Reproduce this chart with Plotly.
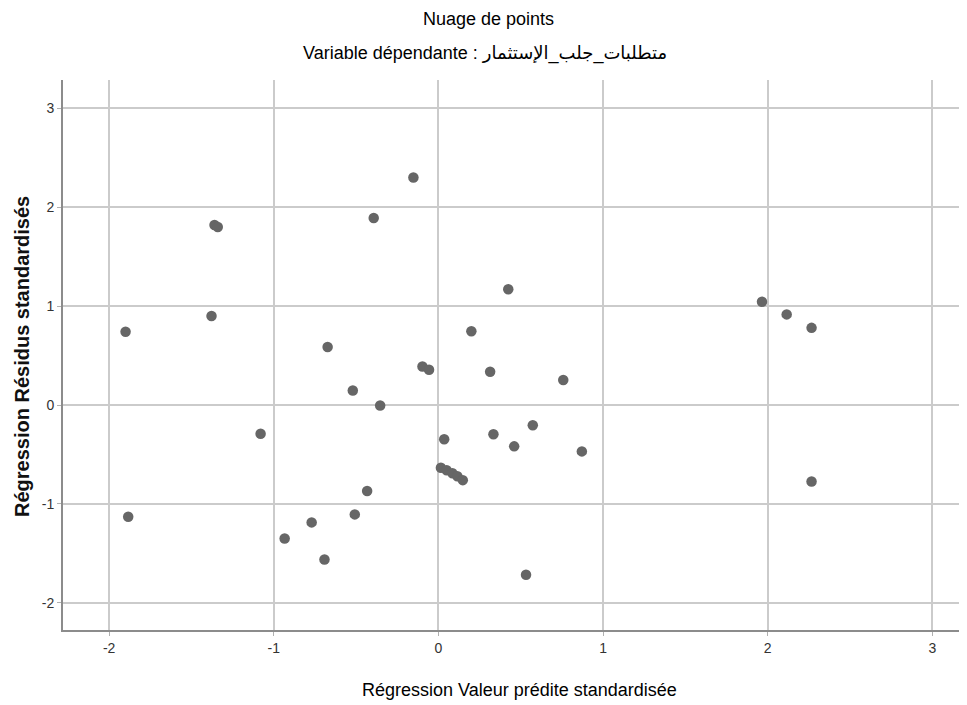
import plotly.graph_objects as go

# Standardized predicted values (x) and standardized residuals (y)
pred_std = [-0.152, -0.393, -1.36, -1.34, -1.378, -1.90, -0.673, -0.097, -0.057,
            -0.52, -0.354, -1.08, 0.035, 0.424, 0.20, 0.314, 0.758, 1.965, 2.115,
            2.266, 2.266, 0.334, 0.573, 0.46, 0.871, 0.015, 0.05, 0.085, 0.115,
            0.148, -1.884, -0.934, -0.77, -0.692, -0.508, -0.433, 0.532]
resid_std = [2.30, 1.89, 1.82, 1.80, 0.90, 0.74, 0.587, 0.39, 0.357,
             0.147, -0.005, -0.29, -0.347, 1.17, 0.746, 0.337, 0.252, 1.044, 0.916,
             0.78, -0.774, -0.296, -0.205, -0.418, -0.469, -0.635, -0.66, -0.69, -0.72,
             -0.76, -1.13, -1.35, -1.187, -1.562, -1.106, -0.87, -1.717]

tick_vals = [-2, -1, 0, 1, 2, 3]
tick_text = ["-2", "-1", "0", "1", "2", "3"]

title_line1 = "Nuage de points"
title_line2 = "Variable dépendante : متطلبات_جلب_الإستثمار"
x_title = "Régression Valeur prédite standardisée"
y_title = "Régression Résidus standardisés"

FONT = "Liberation Sans, Arial, DejaVu Sans, sans-serif"

# page body has an 8px default margin: the figure is drawn offset by (8, 8)
OFF = 8
W, H = 967 - OFF, 705 - OFF
L, R, T, B = 63 - OFF, 0, 80 - OFF, 75
pw, ph = W - L - R, H - T - B

def px_x(px):
    return (px - OFF - L) / pw

def px_y(py):
    return (H - B - (py - OFF)) / ph

fig = go.Figure()
fig.add_trace(go.Scatter(
    x=pred_std, y=resid_std, mode="markers",
    marker=dict(size=10.5, color="#666666", line=dict(width=0)),
    showlegend=False, hoverinfo="x+y",
))

axis_common = dict(
    showgrid=True, gridcolor="#cbcbcb", gridwidth=1.5,
    zeroline=False, showline=True, linecolor="#8c8c8c", linewidth=2,
    ticks="outside", ticklen=4, tickcolor="#b0b0b0",
    tickvals=tick_vals, ticktext=tick_text,
    tickfont=dict(family=FONT, size=14, color="#333333"),
)

fig.update_layout(
    width=W, height=H,
    margin=dict(l=L, r=R, t=T, b=B),
    paper_bgcolor="white", plot_bgcolor="white",
    xaxis=dict(range=[-2.28, 3.21], **axis_common),
    yaxis=dict(range=[-2.275, 3.286], **axis_common),
    annotations=[
        dict(text=title_line1, xref="paper", yref="paper", x=px_x(488), y=px_y(19),
             showarrow=False, xanchor="center", yanchor="middle",
             font=dict(family=FONT, size=18, color="#000000")),
        dict(text=title_line2, xref="paper", yref="paper", x=px_x(485), y=px_y(53),
             showarrow=False, xanchor="center", yanchor="middle",
             font=dict(family=FONT, size=18, color="#000000")),
        dict(text=x_title, xref="paper", yref="paper", x=px_x(519), y=px_y(690),
             showarrow=False, xanchor="center", yanchor="middle",
             font=dict(family=FONT, size=18, color="#000000")),
        dict(text="<b>" + y_title + "</b>", xref="paper", yref="paper", x=px_x(22), y=px_y(357),
             showarrow=False, xanchor="center", yanchor="middle", textangle=-90,
             font=dict(family=FONT, size=20, color="#111111")),
    ],
)

fig.write_html("out.html")
